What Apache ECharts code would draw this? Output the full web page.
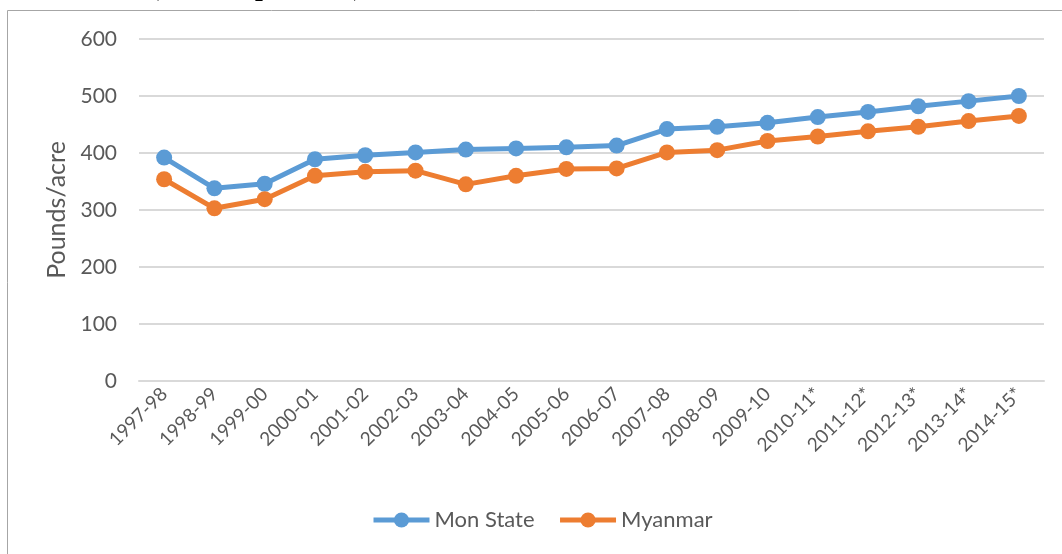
<!DOCTYPE html>
<html><head><meta charset="utf-8">
<script src="https://cdn.jsdelivr.net/npm/echarts@6/dist/echarts.min.js"></script>
<style>html,body{margin:0;padding:0;background:#fff}#c{width:1062px;height:554px}</style>
</head><body><div id="c"></div>
<script>
const categories = ['1997-98','1998-99','1999-00','2000-01','2001-02','2002-03','2003-04','2004-05','2005-06','2006-07','2007-08','2008-09','2009-10','2010-11*','2011-12*','2012-13*','2013-14*','2014-15*'];
const monState = [392,338,346,389,396,401,406,408,410,413,442,446,453,463,472,482,491,500];
const myanmar  = [354,303,319,360,367,369,345,360,372,373,401,405,421,429,438,446,456,465];
const yTicks = [0,100,200,300,400,500,600];

const font = 'Lato, "Open Sans", sans-serif';
const chart = echarts.init(document.getElementById('c'), null, {renderer:'canvas'});
chart.setOption({
  animation:false,
  backgroundColor:'#fff',
  graphic:[
    {type:'rect', shape:{x:7.5,y:10.5,width:1200,height:700}, style:{fill:null,stroke:'#a6a6a6',lineWidth:1}, z:-1},
    {type:'text', left:150, top:-26, style:{text:'(Pounds per acre)', font:'bold 28px "Liberation Serif", serif', fill:'#000'}}
  ],
  grid:{left:139, right:18, top:39, bottom:173},
  legend:{
    bottom:18, left:366, itemGap:23, itemWidth:56, itemHeight:19,
    lineStyle:{width:5},
    textStyle:{color:'#595959', fontSize:22, fontFamily:font},
    data:['Mon State','Myanmar']
  },
  xAxis:{
    type:'category', data:categories, boundaryGap:true,
    axisLine:{show:true, lineStyle:{color:'#d9d9d9', width:2}},
    axisTick:{show:false},
    axisLabel:{rotate:45, fontSize:19, color:'#595959', fontFamily:font, margin:10, interval:0}
  },
  yAxis:{
    type:'value', min:yTicks[0], max:yTicks[yTicks.length-1], interval:100,
    name:'Pounds/acre', nameLocation:'middle', nameGap:68,
    nameTextStyle:{fontSize:25, color:'#595959', fontFamily:font},
    axisLine:{show:false}, axisTick:{show:false},
    axisLabel:{fontSize:21, color:'#595959', fontFamily:font, margin:22},
    splitLine:{lineStyle:{color:'#d9d9d9', width:2}}
  },
  series:[
    {name:'Mon State', type:'line', data:monState, color:'#5B9BD5', symbol:'circle', symbolSize:16,
     lineStyle:{width:5}, itemStyle:{color:'#5B9BD5'}},
    {name:'Myanmar', type:'line', data:myanmar, color:'#ED7D31', symbol:'circle', symbolSize:16,
     lineStyle:{width:5}, itemStyle:{color:'#ED7D31'}}
  ]
});
</script></body></html>
